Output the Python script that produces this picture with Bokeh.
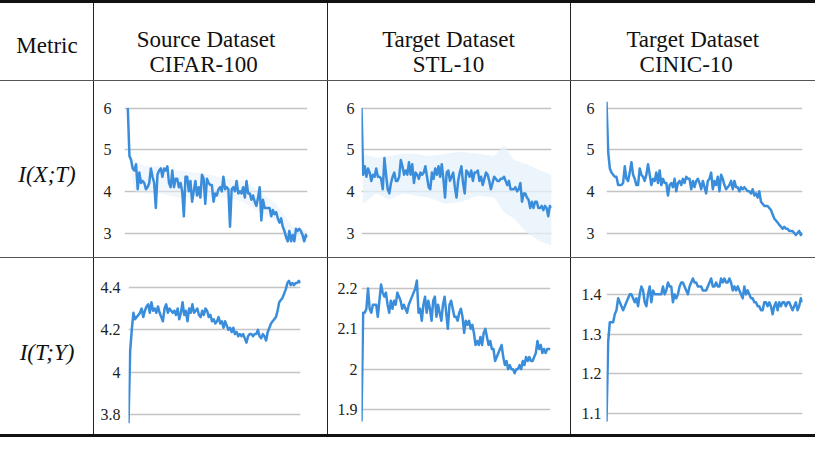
from bokeh.plotting import figure
from bokeh.models import Range1d, FixedTicker, Label, Div
from bokeh.layouts import row, column
from bokeh.embed import file_html
from bokeh.resources import INLINE

# ---------------- data ----------------
metric_header = "Metric"
header_titles = [("Source Dataset", "CIFAR-100"),
                 ("Target Dataset", "STL-10"),
                 ("Target Dataset", "CINIC-10")]
row_labels = ["I(X;T)", "I(T;Y)"]

ixt_cifar100 = [6.0, 4.85, 4.75, 4.55, 4.5, 4.65, 4.05, 4.45, 4.2, 4.25, 4.2, 4.05, 4.1, 4.2, 4.55, 4.35,
                4.2, 3.6, 4.4, 4.5, 4.55, 4.35, 4.55, 4.5, 4.6, 4.2, 4.1, 4.5, 4.1, 4.3, 4.3, 4.1, 4.2, 4.0,
                3.4, 4.35, 4.35, 4.0, 4.25, 3.75, 4.0, 4.25, 3.9, 4.1, 3.85, 4.4, 4.3, 3.7, 4.3, 4.2, 4.15,
                4.15, 3.75, 3.95, 3.9, 4.05, 4.1, 4.0, 4.35, 4.05, 4.1, 4.05, 3.15, 4.05, 4.1, 4.0, 4.25,
                3.95, 4.0, 3.95, 4.1, 3.85, 4.25, 3.95, 3.95, 3.8, 3.9, 3.75, 3.65, 3.85, 4.1, 3.3, 3.8,
                3.6, 3.6, 3.6, 3.6, 3.4, 3.55, 3.45, 3.5, 3.35, 3.25, 3.35, 3.15, 3.05, 2.9, 2.8, 3.05, 2.8,
                2.95, 2.8, 3.1, 3.05, 3.1, 3.05, 2.95, 2.8, 2.95, 2.9]
ixt_cifar100_band_x = [0, 1, 4, 10, 20, 30, 40, 50, 60, 70, 80, 90, 100, 109]
ixt_cifar100_band_lo = [5.9, 4.7, 4.0, 3.95, 3.95, 3.85, 3.85, 3.85, 3.85, 3.75, 3.5, 3.3, 2.85, 2.8]
ixt_cifar100_band_hi = [6.3, 4.9, 4.75, 4.6, 4.6, 4.5, 4.45, 4.4, 4.3, 4.25, 4.0, 3.7, 3.15, 3.05]

ixt_stl10 = [6.0, 4.4, 4.6, 4.35, 4.55, 4.45, 4.25, 4.4, 4.35, 4.55, 4.35, 4.35, 4.3, 4.05, 4.8, 4.4,
             4.05, 3.95, 4.2, 4.35, 4.45, 4.25, 4.25, 4.35, 4.75, 4.6, 4.4, 4.5, 4.4, 4.7, 4.4, 4.65, 4.2,
             4.45, 4.4, 4.3, 4.45, 4.4, 4.45, 4.6, 4.35, 4.1, 4.05, 4.45, 4.3, 4.55, 4.4, 4.6, 4.35, 4.65,
             4.3, 3.85, 4.45, 4.5, 4.25, 4.35, 4.45, 4.1, 3.85, 4.25, 4.45, 4.6, 4.2, 3.95, 4.5, 4.45,
             4.35, 4.5, 4.25, 4.45, 4.45, 4.5, 4.25, 4.35, 4.15, 4.3, 4.45, 4.4, 4.25, 4.05, 4.2, 4.35,
             4.3, 4.25, 4.25, 4.3, 4.3, 4.35, 4.25, 4.15, 4.25, 4.05, 4.05, 4.05, 4.1, 4.0, 4.05, 4.2,
             3.75, 3.95, 3.95, 3.85, 3.8, 3.6, 3.75, 3.6, 3.75, 3.75, 3.6, 3.6, 3.65, 3.55, 3.65, 3.6,
             3.4, 3.65, 3.6]
ixt_stl10_band_x = [0, 1, 9, 17, 25, 33, 41, 51, 61, 71, 81, 87, 93, 101, 109, 116]
ixt_stl10_band_lo = [5.95, 3.7, 3.95, 3.8, 3.95, 3.9, 3.85, 3.7, 3.75, 3.9, 3.85, 3.5, 3.35, 3.0, 2.8, 2.7]
ixt_stl10_band_hi = [6.05, 4.9, 4.8, 4.85, 4.9, 4.9, 4.85, 4.9, 4.95, 4.9, 4.85, 5.1, 4.75, 4.65, 4.5, 4.4]

ixt_cinic10 = [6.15, 4.95, 4.55, 4.45, 4.4, 4.35, 4.35, 4.15, 4.15, 4.15, 4.2, 4.6, 4.3, 4.25, 4.45,
               4.7, 4.4, 4.3, 4.15, 4.15, 4.55, 4.4, 4.35, 4.25, 4.4, 4.65, 4.4, 4.15, 4.3, 4.25, 4.45,
               4.2, 4.5, 4.15, 4.3, 4.2, 4.2, 3.9, 4.15, 4.2, 4.1, 4.3, 4.0, 4.2, 4.25, 4.15, 4.3, 4.2,
               4.35, 4.3, 4.3, 4.05, 4.25, 4.1, 4.25, 4.3, 4.2, 4.05, 4.25, 4.1, 3.95, 4.25, 4.3, 4.45,
               4.05, 4.25, 4.15, 4.35, 4.0, 4.4, 4.3, 4.15, 4.05, 4.1, 4.15, 4.25, 4.05, 4.25, 4.1, 4.1,
               4.0, 4.1, 4.05, 4.1, 4.05, 4.0, 4.0, 3.95, 4.05, 3.9, 3.95, 3.85, 4.0, 3.75, 3.7, 3.65,
               3.65, 3.65, 3.6, 3.55, 3.45, 3.35, 3.3, 3.25, 3.2, 3.15, 3.1, 3.15, 3.1, 3.1, 3.05, 3.05,
               3.05, 3.0, 2.95, 3.0, 3.05, 2.95, 3.0]

ity_cifar100 = [3.76, 4.1, 4.2, 4.28, 4.25, 4.26, 4.27, 4.28, 4.30, 4.26, 4.29, 4.31, 4.32, 4.28, 4.33,
                4.29, 4.30, 4.28, 4.31, 4.28, 4.26, 4.24, 4.30, 4.32, 4.28, 4.30, 4.29, 4.28, 4.29, 4.27,
                4.30, 4.25, 4.28, 4.33, 4.27, 4.29, 4.24, 4.30, 4.28, 4.32, 4.28, 4.29, 4.30, 4.27, 4.26,
                4.29, 4.27, 4.30, 4.29, 4.26, 4.27, 4.24, 4.25, 4.23, 4.24, 4.26, 4.23, 4.24, 4.21, 4.24,
                4.22, 4.20, 4.21, 4.19, 4.21, 4.18, 4.19, 4.17, 4.18, 4.17, 4.18, 4.16, 4.14, 4.17, 4.18,
                4.18, 4.17, 4.18, 4.18, 4.20, 4.17, 4.16, 4.18, 4.17, 4.15, 4.19, 4.21, 4.23, 4.24, 4.25,
                4.26, 4.29, 4.33, 4.34, 4.35, 4.37, 4.39, 4.42, 4.43, 4.41, 4.42, 4.41, 4.42, 4.42, 4.43,
                4.42]

ity_stl10 = [1.87, 2.14, 2.14, 2.15, 2.20, 2.15, 2.14, 2.16, 2.16, 2.16, 2.13, 2.17, 2.21, 2.19, 2.18,
             2.19, 2.16, 2.14, 2.17, 2.15, 2.17, 2.16, 2.19, 2.18, 2.17, 2.15, 2.16, 2.15, 2.14, 2.16,
             2.17, 2.18, 2.19, 2.20, 2.22, 2.14, 2.15, 2.12, 2.16, 2.18, 2.14, 2.17, 2.15, 2.12, 2.17,
             2.18, 2.13, 2.16, 2.14, 2.12, 2.16, 2.18, 2.14, 2.10, 2.16, 2.17, 2.15, 2.13, 2.13, 2.12,
             2.14, 2.15, 2.13, 2.09, 2.12, 2.11, 2.12, 2.10, 2.11, 2.09, 2.06, 2.07, 2.06, 2.08, 2.06,
             2.09, 2.10, 2.08, 2.06, 2.07, 2.05, 2.05, 2.02, 2.03, 2.04, 2.05, 2.06, 2.03, 2.01, 2.02,
             2.00, 2.01, 2.00, 2.00, 1.99, 2.00, 2.00, 2.01, 2.00, 2.02, 2.01, 2.03, 2.02, 2.03, 2.02,
             2.02, 2.03, 2.04, 2.07, 2.05, 2.06, 2.04, 2.05, 2.04, 2.05, 2.05, 2.05]

ity_cinic10 = [1.08, 1.28, 1.33, 1.33, 1.33, 1.35, 1.36, 1.39, 1.38, 1.37, 1.36, 1.37, 1.38, 1.39, 1.40,
               1.40, 1.39, 1.38, 1.39, 1.37, 1.40, 1.42, 1.41, 1.38, 1.37, 1.40, 1.42, 1.38, 1.41, 1.40,
               1.40, 1.40, 1.40, 1.40, 1.42, 1.40, 1.41, 1.43, 1.42, 1.42, 1.38, 1.40, 1.39, 1.40, 1.42,
               1.43, 1.43, 1.42, 1.41, 1.40, 1.42, 1.43, 1.44, 1.43, 1.43, 1.42, 1.42, 1.42, 1.41, 1.41,
               1.41, 1.42, 1.43, 1.44, 1.42, 1.42, 1.43, 1.42, 1.42, 1.44, 1.43, 1.44, 1.43, 1.43, 1.44,
               1.43, 1.41, 1.42, 1.41, 1.42, 1.41, 1.40, 1.39, 1.42, 1.40, 1.41, 1.40, 1.39, 1.39, 1.38,
               1.38, 1.37, 1.37, 1.36, 1.36, 1.38, 1.38, 1.37, 1.38, 1.37, 1.35, 1.37, 1.38, 1.36, 1.38,
               1.37, 1.38, 1.38, 1.37, 1.38, 1.38, 1.37, 1.36, 1.37, 1.38, 1.36, 1.37, 1.39, 1.38]

ticks_ixt = [3, 4, 5, 6]
tick_labels_ixt = ["3", "4", "5", "6"]
ticks_ity_cifar100 = [3.8, 4.0, 4.2, 4.4]
tick_labels_ity_cifar100 = ["3.8", "4", "4.2", "4.4"]
ticks_ity_stl10 = [1.9, 2.0, 2.1, 2.2]
tick_labels_ity_stl10 = ["1.9", "2", "2.1", "2.2"]
ticks_ity_cinic10 = [1.1, 1.2, 1.3, 1.4]
tick_labels_ity_cinic10 = ["1.1", "1.2", "1.3", "1.4"]

# ---------------- style / layout ----------------
SERIF = "Liberation Serif"
BLUE = "#3a8ddb"
BAND = "#e6f0fb"
GRID = "#c4c4c4"
COL_W = [93, 233, 242, 244]
H_HEAD = 77
H_ROW = 176
TOTAL_W = sum(COL_W) + 3


def hline(h, color):
    return Div(width=TOTAL_W, height=h, margin=0, styles={"background-color": color})


def vline(h):
    return Div(width=1, height=h, margin=0, styles={"background-color": "#222222"})


def text_cell(w, h, items):
    p = figure(width=w, height=h, x_range=Range1d(0, 1), y_range=Range1d(0, 1),
               x_axis_location=None, y_axis_location=None, min_border=0,
               toolbar_location=None, output_backend="svg", outline_line_color=None)
    p.grid.visible = False
    for txt, x, y, style, base in items:
        p.add_layout(Label(x=x, y=y, text=txt, text_font=SERIF, text_font_size="23px",
                           text_font_style=style, text_align="center", text_baseline=base,
                           text_color="#111111"))
    return p


def chart(w, h, series, ticks, labels, yr, borders, standoff, x0=0, band=None, band_alpha=0.7):
    left, right, top, bottom = borders
    epochs = list(range(len(series)))
    p = figure(width=w, height=h, x_range=Range1d(x0, len(series) - 1),
               y_range=Range1d(*yr), x_axis_location=None, toolbar_location=None,
               output_backend="svg", min_border_left=left, min_border_right=right,
               min_border_top=top, min_border_bottom=bottom, outline_line_color=None)
    p.xgrid.visible = False
    p.ygrid.grid_line_color = GRID
    p.ygrid.grid_line_width = 1.4
    ax = p.yaxis[0]
    ax.ticker = FixedTicker(ticks=ticks)
    ax.major_label_overrides = dict(zip(ticks, labels))
    ax.axis_line_color = None
    ax.major_tick_line_color = None
    ax.minor_tick_line_color = None
    ax.major_tick_out = 0
    ax.major_tick_in = 0
    ax.major_label_standoff = standoff
    ax.major_label_text_font = SERIF
    ax.major_label_text_font_size = "16px"
    ax.major_label_text_color = "#222222"
    if band is not None:
        bx, lo, hi = band
        p.varea(x=bx, y1=lo, y2=hi, fill_color=BAND, fill_alpha=band_alpha)
    p.line(x=epochs, y=series, line_color=BLUE, line_width=2.5, line_join="round")
    return p


header = row(
    text_cell(COL_W[0], H_HEAD, [(metric_header, 0.5, 0.46, "normal", "alphabetic")]),
    vline(H_HEAD),
    text_cell(COL_W[1], H_HEAD, [(header_titles[0][0], 0.479, 0.53, "normal", "alphabetic"),
                                 (header_titles[0][1], 0.468, 0.205, "normal", "alphabetic")]),
    vline(H_HEAD),
    text_cell(COL_W[2], H_HEAD, [(header_titles[1][0], 0.496, 0.53, "normal", "alphabetic"),
                                 (header_titles[1][1], 0.496, 0.205, "normal", "alphabetic")]),
    vline(H_HEAD),
    text_cell(COL_W[3], H_HEAD, [(header_titles[2][0], 0.497, 0.53, "normal", "alphabetic"),
                                 (header_titles[2][1], 0.47, 0.205, "normal", "alphabetic")]),
    spacing=0,
)

row1 = row(
    text_cell(COL_W[0], H_ROW, [(row_labels[0], 0.5, 0.475, "italic", "middle")]),
    vline(H_ROW),
    chart(COL_W[1], H_ROW, ixt_cifar100, ticks_ixt, tick_labels_ixt, (2.7, 6.3),
          (30, 20, 14, 8), 13, x0=-2,
          band=(ixt_cifar100_band_x, ixt_cifar100_band_lo, ixt_cifar100_band_hi), band_alpha=0.5),
    vline(H_ROW),
    chart(COL_W[2], H_ROW, ixt_stl10, ticks_ixt, tick_labels_ixt, (2.7, 6.3),
          (33, 19, 10, 12), 7,
          band=(ixt_stl10_band_x, ixt_stl10_band_lo, ixt_stl10_band_hi), band_alpha=0.75),
    vline(H_ROW),
    chart(COL_W[3], H_ROW, ixt_cinic10, ticks_ixt, tick_labels_ixt, (2.7, 6.3),
          (35, 13, 14, 8), 12),
    spacing=0,
)

row2 = row(
    text_cell(COL_W[0], H_ROW, [(row_labels[1], 0.5, 0.475, "italic", "middle")]),
    vline(H_ROW),
    chart(COL_W[1], H_ROW, ity_cifar100, ticks_ity_cifar100, tick_labels_ity_cifar100,
          (3.76, 4.46), (34, 27, 16, 11), 8),
    vline(H_ROW),
    chart(COL_W[2], H_ROW, ity_stl10, ticks_ity_stl10, tick_labels_ity_stl10,
          (1.865, 2.235), (33, 20, 13, 7), 4),
    vline(H_ROW),
    chart(COL_W[3], H_ROW, ity_cinic10, ticks_ity_cinic10, tick_labels_ity_cinic10,
          (1.075, 1.45), (35, 13, 8, 10), 5),
    spacing=0,
)

layout = column(
    hline(3, "#111111"),
    header,
    hline(1, "#555555"),
    row1,
    hline(1, "#555555"),
    row2,
    hline(3, "#111111"),
    spacing=0,
)

open("out.html", "w").write(file_html(layout, INLINE))
